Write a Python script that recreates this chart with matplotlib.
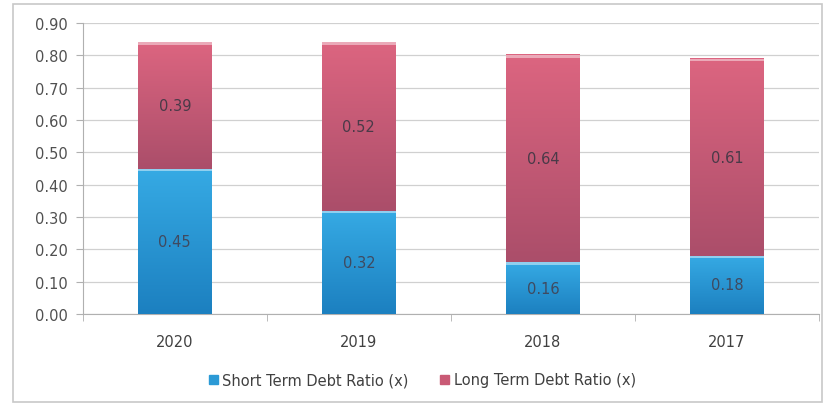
import matplotlib
matplotlib.use("Agg")
import matplotlib.pyplot as plt
import numpy as np
from matplotlib.patches import Rectangle, Patch
from matplotlib.colors import to_rgb

years = ["2020", "2019", "2018", "2017"]
short_term = [0.45, 0.32, 0.16, 0.18]
long_term = [0.39, 0.52, 0.64, 0.61]
yticks = [0.0, 0.1, 0.2, 0.3, 0.4, 0.5, 0.6, 0.7, 0.8, 0.9]

plt.rcParams['font.family'] = ['DejaVu Sans']
fig = plt.figure(figsize=(8.28, 4.06), dpi=100)
fig.patch.set_facecolor('white')
fig.patches.append(Rectangle((13/828, 3/406), 809/828, 398/406, transform=fig.transFigure,
                             fill=False, edgecolor='#c8c8c8', lw=1.2))
ax = fig.add_axes([0.100, 0.224, 0.889, 0.717])

x = np.arange(len(years))
w = 0.4
blue = '#2b9ad6'
pink = '#c95a75'
b1 = ax.bar(x, short_term, w, color=blue, zorder=3)
b2 = ax.bar(x, long_term, w, bottom=short_term, color=pink, zorder=3)

def grad(bars, top_col, bot_col):
    t = np.array(to_rgb(top_col)); b = np.array(to_rgb(bot_col))
    n = 64
    f = np.linspace(0, 1, n)[:, None, None]
    img = f * t + (1 - f) * b
    for r in bars:
        x0, y0 = r.get_x(), r.get_y()
        ax.imshow(img, extent=(x0, x0 + r.get_width(), y0, y0 + r.get_height()),
                  origin='lower', aspect='auto', zorder=3.5, interpolation='bilinear')
grad(b1, '#36aae4', '#1c80c0')
grad(b2, '#dc6580', '#ab4e6a')

for r in list(b1) + list(b2):
    ax.add_patch(Rectangle((r.get_x(), r.get_y() + r.get_height() - 0.008), r.get_width(), 0.008,
                           color='white', alpha=0.45, zorder=4, lw=0))

for i in range(len(years)):
    ax.text(x[i], short_term[i] / 2, f"{short_term[i]:.2f}", ha='center', va='center',
            fontsize=10.5, color='#3f4a60', zorder=5)
    ax.text(x[i], short_term[i] + long_term[i] / 2, f"{long_term[i]:.2f}", ha='center', va='center',
            fontsize=10.5, color='#4a3a48', zorder=5)

ax.set_xlim(-0.5, len(years) - 0.5)
ax.set_ylim(0, 0.9)
ax.set_yticks(yticks)
ax.set_yticklabels([f"{v:.2f}" for v in yticks], fontsize=10.5, color='#505050')
ax.set_xticks(x)
ax.set_xticklabels(years, fontsize=10.5, color='#404040')
ax.set_xticks(np.arange(-0.5, len(years), 1), minor=True)
ax.tick_params(axis='x', which='major', length=0, pad=14)
ax.tick_params(axis='x', which='minor', length=5, color='#b0b0b0')
ax.tick_params(axis='y', length=5, color='#b0b0b0', pad=6)
ax.grid(axis='y', color='#d0d0d0', lw=0.9, zorder=0)
for s in ['top', 'right']:
    ax.spines[s].set_visible(False)
ax.spines['left'].set_color('#b0b0b0')
ax.spines['bottom'].set_color('#b0b0b0')

handles = [Patch(color=blue, label='Short Term Debt Ratio (x)'),
           Patch(color=pink, label='Long Term Debt Ratio (x)')]
leg = fig.legend(handles=handles, loc='center', bbox_to_anchor=(0.51, 0.062), ncol=2, frameon=False,
                 fontsize=10.5, handlelength=0.6, handleheight=0.6, handletextpad=0.3, columnspacing=2.2)
for t in leg.get_texts():
    t.set_color('#404040')

fig.savefig('out.png', dpi=100, facecolor='white')
